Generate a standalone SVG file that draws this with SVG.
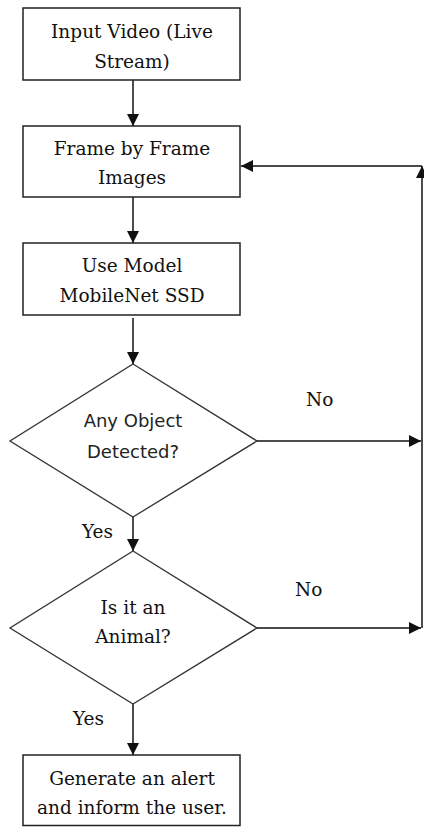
<svg xmlns="http://www.w3.org/2000/svg" width="424" height="827" viewBox="0 0 424 827">
<style>
.box{fill:#fff;stroke:#222;stroke-width:1.5}
.dia{fill:#fff;stroke:#333;stroke-width:1.3}
.ln{fill:none;stroke:#111;stroke-width:1.5}
.t{font-family:"DejaVu Serif","Liberation Serif",serif;font-size:18.5px;fill:#111;text-anchor:middle}
.s{font-family:"DejaVu Sans","Liberation Sans",sans-serif;font-size:18px;fill:#222;text-anchor:middle}
.lbl{font-family:"DejaVu Serif","Liberation Serif",serif;font-size:18.5px;fill:#111}
</style>
<defs>
<marker id="ah" markerUnits="userSpaceOnUse" markerWidth="12" markerHeight="12" refX="12" refY="6" orient="auto">
<path d="M0,0 L12,6 L0,12 z" fill="#111"/>
</marker>
</defs>
<rect width="424" height="827" fill="#fff"/>
<g id="connectors">
<line class="ln" x1="133" y1="80" x2="133" y2="126" marker-end="url(#ah)"/>
<line class="ln" x1="133" y1="197" x2="133" y2="243" marker-end="url(#ah)"/>
<line class="ln" x1="133" y1="318" x2="133" y2="364" marker-end="url(#ah)"/>
<line class="ln" x1="133" y1="517" x2="133" y2="551" marker-end="url(#ah)"/>
<line class="ln" x1="133" y1="704" x2="133" y2="755" marker-end="url(#ah)"/>
<line class="ln" x1="257" y1="441" x2="421" y2="441" marker-end="url(#ah)"/>
<line class="ln" x1="257" y1="628" x2="421" y2="628" marker-end="url(#ah)"/>
<line class="ln" x1="422" y1="628" x2="422" y2="166" marker-end="url(#ah)"/>
<line class="ln" x1="422" y1="166" x2="241" y2="166" marker-end="url(#ah)"/>
<text class="lbl" x="306" y="406">No</text>
<text class="lbl" x="295" y="596">No</text>
<text class="lbl" x="82" y="538">Yes</text>
<text class="lbl" x="73" y="725">Yes</text>
</g>
<g id="input">
<rect class="box" x="23" y="8" width="217" height="72"/>
<text class="t" x="132" y="38">Input Video (Live</text>
<text class="t" x="132" y="68">Stream)</text>
</g>
<g id="frames">
<rect class="box" x="23" y="126" width="217" height="71"/>
<text class="t" x="132" y="155">Frame by Frame</text>
<text class="t" x="132" y="184">Images</text>
</g>
<g id="model">
<rect class="box" x="23" y="243" width="217" height="72"/>
<text class="t" x="132" y="272">Use Model</text>
<text class="t" x="132" y="302">MobileNet SSD</text>
</g>
<g id="detect">
<polygon class="dia" points="133,364 257,441 133,517 10,441"/>
<text class="s" x="133" y="427">Any Object</text>
<text class="s" x="133" y="458">Detected?</text>
</g>
<g id="animal">
<polygon class="dia" points="133,551 257,628 133,704 10,628"/>
<text class="t" x="133" y="614">Is it an</text>
<text class="t" x="133" y="643">Animal?</text>
</g>
<g id="alert">
<rect class="box" x="23" y="755" width="217" height="70.5"/>
<text class="t" x="132" y="785">Generate an alert</text>
<text class="t" x="132" y="814">and inform the user.</text>
</g>
</svg>
